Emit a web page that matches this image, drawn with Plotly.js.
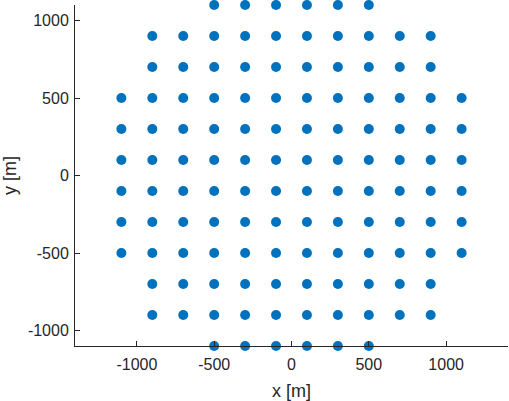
<!DOCTYPE html>
<html>
<head>
<meta charset="utf-8">
<script src="https://cdn.plot.ly/plotly-3.0.1.min.js"></script>
<style>html,body{margin:0;padding:0;background:#fff;}#plot{width:509px;height:401px;}</style>
</head>
<body>
<div id="plot"></div>
<script>
// Row x-positions [m]
const narrowX = [-500, -300, -100, 100, 300, 500];
const midX = [-900, -700, -500, -300, -100, 100, 300, 500, 700, 900];
const wideX = [-1100, -900, -700, -500, -300, -100, 100, 300, 500, 700, 900, 1100];
// Row y-positions [m]
const rowY = [1100, 900, 700, 500, 300, 100, -100, -300, -500, -700, -900, -1100];
const rowSet = [narrowX, midX, midX, wideX, wideX, wideX, wideX, wideX, wideX, midX, midX, narrowX];
const xTicks = [-1000, -500, 0, 500, 1000];
const yTicks = [-1000, -500, 0, 500, 1000];

const xs = [], ys = [];
rowY.forEach((y, i) => { rowSet[i].forEach(x => { xs.push(x); ys.push(y); }); });

const FONT = 'Liberation Sans, Arial, sans-serif';
const axisCommon = {
  showgrid: false, zeroline: false, showline: true, linecolor: '#262626', linewidth: 1,
  ticks: 'inside', ticklen: 5, tickcolor: '#262626', tickwidth: 1,
  tickfont: {family: FONT, size: 16, color: '#262626'},
  mirror: false
};

const data = [{
  x: xs, y: ys, type: 'scatter', mode: 'markers',
  marker: {color: '#0072BD', size: 10},
  cliponaxis: false, hoverinfo: 'none'
}];

const layout = {
  width: 509, height: 401,
  margin: {l: 75, r: 1, t: 5, b: 55},
  paper_bgcolor: '#ffffff', plot_bgcolor: '#ffffff',
  showlegend: false,
  xaxis: Object.assign({}, axisCommon, {
    range: [-1400, 1400], tickvals: xTicks, ticktext: xTicks.map(String),
    ticklabelstandoff: 4,
    title: {text: 'x [m]', font: {family: FONT, size: 18, color: '#262626'}, standoff: 14}
  }),
  yaxis: Object.assign({}, axisCommon, {
    range: [-1100, 1100], tickvals: yTicks, ticktext: yTicks.map(String),
    ticklabelstandoff: 2,
    title: {text: 'y [m]', font: {family: FONT, size: 18, color: '#262626'}, standoff: 8}
  })
};

Plotly.newPlot('plot', data, layout, {staticPlot: true, displayModeBar: false});
</script>
</body>
</html>
